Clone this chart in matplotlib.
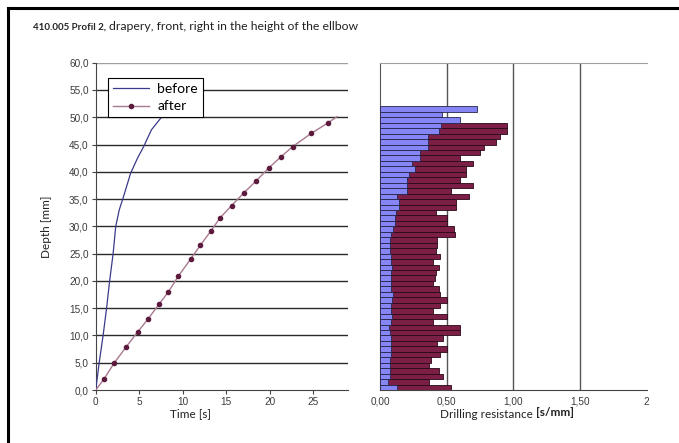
import numpy as np
import matplotlib
matplotlib.use("Agg")
from matplotlib import pyplot as plt
from matplotlib.lines import Line2D

# Data
# "after" curve: time [s] vs depth [mm] (markers at every point except the last)
after_time = [0, 0.95, 2.1, 3.45, 4.8, 6.05, 7.3, 8.35, 9.5, 10.9, 12.0, 13.2,
              14.3, 15.6, 17.05, 18.4, 19.9, 21.3, 22.6, 24.75, 26.7, 27.7]
after_depth = [0, 2.0, 4.9, 7.8, 10.6, 13.1, 15.8, 18.0, 20.9, 24.0, 26.5, 29.1,
               31.6, 33.8, 36.2, 38.3, 40.75, 42.8, 44.6, 47.05, 49.0, 50.1]

# "before" curve
before_time = [0, 0.4, 0.85, 1.25, 1.6, 2.0, 2.3, 2.7, 3.3, 4.0, 4.8, 5.5, 6.4, 7.6, 8.6]
before_depth = [0, 5, 10, 15, 20, 25, 30, 33, 36, 39.7, 42.5, 44.6, 47.7, 50.1, 52]

# Drilling resistance [s/mm] per 1 mm depth step, from 0 mm upwards
bar_depth = np.arange(52) + 0.5
res_before = [0.13, 0.06, 0.075, 0.075, 0.075, 0.075, 0.08, 0.08, 0.08, 0.08,
              0.075, 0.07, 0.08, 0.09, 0.08, 0.08, 0.09, 0.095, 0.085, 0.08,
              0.08, 0.08, 0.09, 0.08, 0.08, 0.075, 0.075, 0.075, 0.085,
              0.10, 0.11, 0.11, 0.12, 0.14, 0.14, 0.125, 0.20, 0.20, 0.20,
              0.22, 0.26, 0.24, 0.30, 0.30, 0.36, 0.36, 0.36, 0.44, 0.46,
              0.60, 0.465, 0.73]
res_after = [0.53, 0.37, 0.47, 0.44, 0.37, 0.38, 0.45, 0.50, 0.43, 0.475,
             0.60, 0.60, 0.40, 0.50, 0.40, 0.45, 0.50, 0.45, 0.44, 0.40,
             0.41, 0.42, 0.44, 0.40, 0.45, 0.42, 0.43, 0.43, 0.56,
             0.555, 0.50, 0.50, 0.42, 0.57, 0.57, 0.67, 0.53, 0.70, 0.60,
             0.645, 0.645, 0.70, 0.60, 0.75, 0.78, 0.87, 0.90, 0.95, 0.95,
             0, 0, 0]

depth_ticks = np.arange(0, 61, 5)
depth_labels = ["%.1f" % v for v in depth_ticks]
depth_labels = [s.replace(".", ",") for s in depth_labels]
time_ticks = [0, 5, 10, 15, 20, 25]
res_ticks = [0, 0.5, 1.0, 1.5, 2.0]
res_labels = ["0,00", "0,50", "1,00", "1,50", "2"]

W, H = 679, 443
fig = plt.figure(figsize=(W / 100, H / 100), dpi=100)
fig.patch.set_facecolor("white")


def fx(px):
    return px / W


def fy(py):
    return 1 - py / H


tick_font = dict(family="Liberation Sans", size=7.2)
label_font = "Lato"

# ---- left panel: depth vs time ----
ax1 = fig.add_axes([fx(95.7), fy(390), fx(348.3) - fx(95.7), fy(62.7) - fy(390)])
ax1.plot(before_time, before_depth, color="#3a3a8a", lw=0.9, zorder=3, label="before")
ax1.plot(after_time, after_depth, color="#a87890", lw=1.0, zorder=3,
         marker="o", markersize=3, markerfacecolor="#5c1a3c", markeredgecolor="#5c1a3c",
         markevery=list(range(1, len(after_time) - 1)), label="after")
ax1.set_xlim(0, 29)
ax1.set_ylim(0, 60)
ax1.set_yticks(depth_ticks)
ax1.set_yticklabels(depth_labels, fontdict=tick_font, color="#3a3a3a")
ax1.set_xticks(time_ticks)
ax1.set_xticklabels([str(t) for t in time_ticks], fontdict=tick_font, color="#3a3a3a")
ax1.yaxis.grid(True, color="#2a2a2a", lw=1.0)
ax1.get_ygridlines()[-1].set_color("#a0a0a0")
ax1.get_ygridlines()[0].set_visible(False)
ax1.set_axisbelow(True)
for s in ["top", "right"]:
    ax1.spines[s].set_visible(False)
ax1.spines["left"].set_color("#444444")
ax1.spines["bottom"].set_color("#444444")
ax1.tick_params(axis="both", length=3, width=0.8, color="#444444", pad=2)

leg = ax1.legend(loc="upper left", bbox_to_anchor=(fx(108), fy(78)),
                 bbox_transform=fig.transFigure, borderaxespad=0,
                 fancybox=False, framealpha=1, edgecolor="black",
                 prop=dict(family=label_font, size=10), handlelength=2.6,
                 handletextpad=0.6, borderpad=0.35, labelspacing=0.4)
leg.get_frame().set_linewidth(0.8)
leg.set_zorder(10)

# ---- right panel: drilling resistance ----
ax2 = fig.add_axes([fx(380), fy(390), fx(646.7) - fx(380), fy(62.7) - fy(390)])
ax2.barh(bar_depth, res_after, height=1.0, color="#7c1f47", edgecolor="#2a0818",
         lw=0.6, zorder=2)
ax2.barh(bar_depth, res_before, height=1.0, color="#8585f5", edgecolor="#25254a",
         lw=0.6, zorder=3)
ax2.set_xlim(0, 2)
ax2.set_ylim(0, 60)
ax2.set_xticks(res_ticks)
ax2.set_xticklabels(res_labels, fontdict=tick_font, color="#3a3a3a")
ax2.set_yticks([])
ax2.xaxis.grid(True, color="#555555", lw=1.0)
ax2.get_xgridlines()[0].set_visible(False)
ax2.get_xgridlines()[-1].set_visible(False)
ax2.set_axisbelow(True)
ax2.spines["right"].set_visible(False)
ax2.spines["top"].set_color("#a0a0a0")
ax2.spines["left"].set_color("#555555")
ax2.spines["bottom"].set_color("#444444")
ax2.tick_params(axis="x", length=0, pad=5)

# ---- texts ----
renderer = fig.canvas.get_renderer()
t1 = fig.text(fx(33), fy(30), "410.005 Profil 2,", fontsize=7, fontweight="bold",
              family=label_font, va="baseline", color="#222222")
bb = t1.get_window_extent(renderer)
fig.text(bb.x1 / W + fx(3), fy(30), "drapery, front, right in the height of the ellbow",
         fontsize=8.8, family=label_font, va="baseline", color="#222222")

fig.text(fx(47), fy(227), "Depth [mm]", rotation=90, fontsize=8.5, family=label_font,
         ha="center", va="center", color="#222222")
fig.text(fx(190), fy(414), "Time [s]", fontsize=8.5, family=label_font,
         ha="center", va="center", color="#222222")

t2 = fig.text(fx(440), fy(414), "Drilling resistance", fontsize=8.5, family=label_font,
              ha="left", va="center", color="#222222")
bb2 = t2.get_window_extent(renderer)
fig.text(bb2.x1 / W + fx(3), fy(412), "[s/mm]", fontsize=8.5, fontweight="bold",
         family=label_font, ha="left", va="center", color="#222222")

# outer frame (left and top edges visible in the reference)
fig.add_artist(Line2D([fx(8), fx(8)], [fy(8), 0], transform=fig.transFigure,
                      color="black", lw=2.2))
fig.add_artist(Line2D([fx(8), 1], [fy(8), fy(8)], transform=fig.transFigure,
                      color="black", lw=2.2))

fig.savefig("out.png", dpi=100)
